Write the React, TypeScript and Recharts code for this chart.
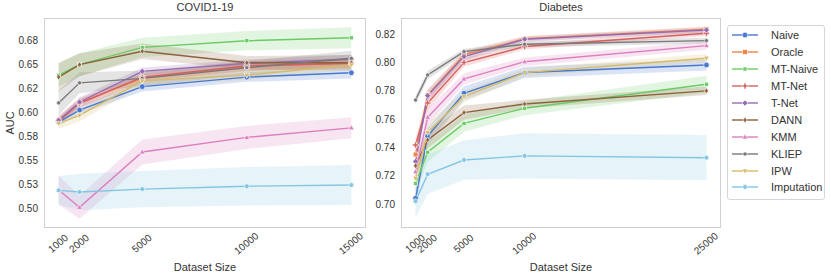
import React from "react";
import { Area, ComposedChart, Line, XAxis, YAxis } from "recharts";

const methods = ["Naive", "Oracle", "MT-Naive", "MT-Net", "T-Net", "DANN", "KMM", "KLIEP", "IPW", "Imputation"];
const colors = ["#4878d0", "#ee854a", "#6acc64", "#d65f5f", "#956cb4", "#8c613c", "#dc7ec0", "#797979", "#d5bb67", "#82c6e2"];
const markers = ["circle", "square", "smallSquare", "plus", "diamond", "thinDiamond", "triUp", "dot", "triDown", "hex"];

// COVID1-19 panel
const covidSizes = [1000, 2000, 5000, 10000, 15000];
const covidAuc = [
  [0.590, 0.6026, 0.627, 0.637, 0.6415], // Naive
  [0.592, 0.610, 0.636, 0.648, 0.652], // Oracle
  [0.639, 0.650, 0.668, 0.675, 0.678], // MT-Naive
  [0.591, 0.6096, 0.637, 0.6486, 0.6514], // MT-Net
  [0.592, 0.611, 0.643, 0.6513, 0.6556], // T-Net
  [0.637, 0.650, 0.664, 0.652, 0.652], // DANN
  [0.519, 0.501, 0.5588, 0.574, 0.584], // KMM
  [0.610, 0.631, 0.6357, 0.6468, 0.6566], // KLIEP
  [0.5887, 0.597, 0.633, 0.639, 0.6497], // IPW
  [0.5187, 0.517, 0.520, 0.523, 0.5243], // Imputation
];
const covidCi = [
  [0.004, 0.004, 0.005, 0.005, 0.006],
  [0.004, 0.004, 0.004, 0.005, 0.005],
  [0.012, 0.012, 0.010, 0.010, 0.011],
  [0.004, 0.005, 0.005, 0.005, 0.005],
  [0.004, 0.005, 0.004, 0.004, 0.005],
  [0.015, 0.012, 0.008, 0.007, 0.008],
  [0.015, 0.012, 0.013, 0.012, 0.011],
  [0.013, 0.011, 0.008, 0.007, 0.008],
  [0.006, 0.006, 0.005, 0.005, 0.005],
  [0.015, 0.019, 0.019, 0.020, 0.021],
];
const covidYTicks = [0.5, 0.525, 0.55, 0.575, 0.6, 0.625, 0.65, 0.675];
const covidYLabels = ["0.50", "0.53", "0.55", "0.58", "0.60", "0.62", "0.65", "0.68"];

// Diabetes panel
const diabetesSizes = [1000, 2000, 5000, 10000, 25000];
const diabetesAuc = [
  [0.704, 0.748, 0.7783, 0.793, 0.7983], // Naive
  [0.735, 0.777, 0.8054, 0.8168, 0.8235], // Oracle
  [0.7146, 0.7366, 0.757, 0.7677, 0.7847], // MT-Naive
  [0.7417, 0.7714, 0.800, 0.8113, 0.8207], // MT-Net
  [0.730, 0.7766, 0.8042, 0.8165, 0.823], // T-Net
  [0.727, 0.7453, 0.7646, 0.7707, 0.780], // DANN
  [0.7228, 0.7613, 0.7884, 0.8006, 0.812], // KMM
  [0.7735, 0.7912, 0.8077, 0.8129, 0.8155], // KLIEP
  [0.7182, 0.7504, 0.7759, 0.7929, 0.803], // IPW
  [0.702, 0.721, 0.7311, 0.734, 0.7327], // Imputation
];
const diabetesCi = [
  [0.006, 0.006, 0.005, 0.004, 0.004],
  [0.004, 0.004, 0.003, 0.002, 0.002],
  [0.006, 0.007, 0.006, 0.005, 0.006],
  [0.005, 0.005, 0.003, 0.002, 0.002],
  [0.005, 0.004, 0.003, 0.002, 0.002],
  [0.007, 0.006, 0.005, 0.003, 0.003],
  [0.006, 0.006, 0.004, 0.003, 0.003],
  [0.003, 0.003, 0.002, 0.002, 0.002],
  [0.006, 0.006, 0.004, 0.003, 0.003],
  [0.012, 0.014, 0.014, 0.016, 0.016],
];
const diabetesYTicks = [0.7, 0.72, 0.74, 0.76, 0.78, 0.8, 0.82];
const diabetesYLabels = ["0.70", "0.72", "0.74", "0.76", "0.78", "0.80", "0.82"];

const FONT = "'Liberation Sans', Arial, sans-serif";
const TEXT = "#333";

function Marker({ kind, cx, cy, color }: { kind: string; cx: number; cy: number; color: string }) {
  const st = { fill: color, stroke: "#fff", strokeWidth: 0.6 };
  const poly = (pts: number[][]) => <polygon points={pts.map((p) => `${cx + p[0]},${cy + p[1]}`).join(" ")} {...st} />;
  switch (kind) {
    case "circle":
      return <circle cx={cx} cy={cy} r={2.8} {...st} />;
    case "square":
      return <rect x={cx - 2.4} y={cy - 2.4} width={4.8} height={4.8} {...st} />;
    case "smallSquare":
      return <rect x={cx - 2} y={cy - 2} width={4} height={4} {...st} />;
    case "plus":
      return poly([[-1, -3], [1, -3], [1, -1], [3, -1], [3, 1], [1, 1], [1, 3], [-1, 3], [-1, 1], [-3, 1], [-3, -1], [-1, -1]]);
    case "diamond":
      return poly([[0, -3], [3, 0], [0, 3], [-3, 0]]);
    case "thinDiamond":
      return poly([[0, -3], [2, 0], [0, 3], [-2, 0]]);
    case "triUp":
      return poly([[0, -3], [2.8, 2], [-2.8, 2]]);
    case "triDown":
      return poly([[0, 3], [2.8, -2], [-2.8, -2]]);
    case "dot":
      return <circle cx={cx} cy={cy} r={2.1} {...st} />;
    default:
      return <circle cx={cx} cy={cy} r={2.4} {...st} />;
  }
}

function XTick({ x, y, payload }: any) {
  const cy = y + 16;
  return (
    <text x={x} y={cy} transform={`rotate(-40 ${x} ${cy})`} textAnchor="middle" dominantBaseline="middle"
      fill={TEXT} fontSize={10} fontFamily={FONT}>
      {payload.value}
    </text>
  );
}

interface PanelProps {
  left: number;
  width: number;
  marginRight: number;
  title: string;
  sizes: number[];
  auc: number[][];
  ci: number[][];
  xDomain: number[];
  yDomain: number[];
  yTicks: number[];
  yLabels: string[];
  yLabel?: string;
}

function Panel({ left, width, marginRight, title, sizes, auc, ci, xDomain, yDomain, yTicks, yLabels, yLabel }: PanelProps) {
  const rows = sizes.map((size, j) => {
    const row: Record<string, any> = { size };
    methods.forEach((_, i) => {
      row["m" + i] = auc[i][j];
      row["r" + i] = [auc[i][j] - ci[i][j], auc[i][j] + ci[i][j]];
    });
    return row;
  });
  const plotLeft = 44;
  const plotW = width - plotLeft - marginRight;
  return (
    <div style={{ position: "absolute", left, top: 0, width, height: 278 }}>
      <div style={{ position: "absolute", left: plotLeft, width: plotW, top: 1, textAlign: "center", fontSize: 11, fontFamily: FONT, color: TEXT }}>
        {title}
      </div>
      <div style={{ position: "absolute", left: plotLeft, width: plotW, top: 261, textAlign: "center", fontSize: 11, fontFamily: FONT, color: TEXT }}>
        Dataset Size
      </div>
      {yLabel && (
        <div style={{ position: "absolute", left: 10, top: 123, transform: "translate(-50%, -50%) rotate(-90deg)", fontSize: 11, fontFamily: FONT, color: TEXT }}>
          {yLabel}
        </div>
      )}
      <ComposedChart width={width} height={278} data={rows} margin={{ top: 18, right: marginRight, left: 0, bottom: 20 }}>
        <XAxis dataKey="size" type="number" domain={xDomain} allowDataOverflow ticks={sizes} interval={0}
          height={30} tickLine={false} axisLine={false} tickSize={0} tickMargin={0} tick={<XTick />} />
        <YAxis type="number" domain={yDomain} allowDataOverflow ticks={yTicks} interval={0} width={44}
          tickLine={false} axisLine={false} tickSize={4} tickMargin={2}
          tickFormatter={(v: number) => yLabels[yTicks.indexOf(v)] ?? ""}
          tick={{ fill: TEXT, fontSize: 10, fontFamily: FONT }} />
        {methods.map((m, i) => (
          <Area key={"a" + m} type="linear" dataKey={"r" + i} stroke="none" fill={colors[i]} fillOpacity={0.2}
            dot={false} activeDot={false} isAnimationActive={false} />
        ))}
        {methods.map((m, i) => (
          <Line key={"l" + m} type="linear" dataKey={"m" + i} stroke={colors[i]} strokeWidth={1.4}
            activeDot={false} isAnimationActive={false}
            dot={(p: any) => <Marker key={`${m}-${p.index}`} kind={markers[i]} cx={p.cx} cy={p.cy} color={colors[i]} />} />
        ))}
      </ComposedChart>
      <div style={{ position: "absolute", left: plotLeft, top: 18, width: plotW, height: 210, boxSizing: "border-box",
        border: "1.3px solid #d0d0d0", pointerEvents: "none" }} />
    </div>
  );
}

function Legend() {
  return (
    <div style={{ position: "absolute", left: 727, top: 25, width: 98, boxSizing: "border-box", border: "1px solid #d6d6d6",
      borderRadius: 3, background: "#fff", padding: "1px 0 3px 0" }}>
      {methods.map((m, i) => (
        <div key={m} style={{ height: 16.9, display: "flex", alignItems: "center" }}>
          <svg width={40} height={12} style={{ marginLeft: 3, flexShrink: 0 }}>
            <line x1={1} x2={27} y1={6} y2={6} stroke={colors[i]} strokeWidth={1.4} />
            <Marker kind={markers[i]} cx={14} cy={6} color={colors[i]} />
          </svg>
          <span style={{ fontSize: 11, fontFamily: FONT, color: TEXT }}>{m}</span>
        </div>
      ))}
    </div>
  );
}

export default function App() {
  return (
    <div style={{ position: "absolute", left: 0, top: 0, width: 831, height: 278, background: "#fff" }}>
      <Panel left={0} width={370} marginRight={4} title="COVID1-19" sizes={covidSizes} auc={covidAuc} ci={covidCi}
        xDomain={[300, 15700]} yDomain={[0.4794, 0.6987]} yTicks={covidYTicks} yLabels={covidYLabels} yLabel="AUC" />
      <Panel left={357} width={370} marginRight={6} title="Diabetes" sizes={diabetesSizes} auc={diabetesAuc} ci={diabetesCi}
        xDomain={[-200, 26200]} yDomain={[0.683, 0.8315]} yTicks={diabetesYTicks} yLabels={diabetesYLabels} />
      <Legend />
    </div>
  );
}
